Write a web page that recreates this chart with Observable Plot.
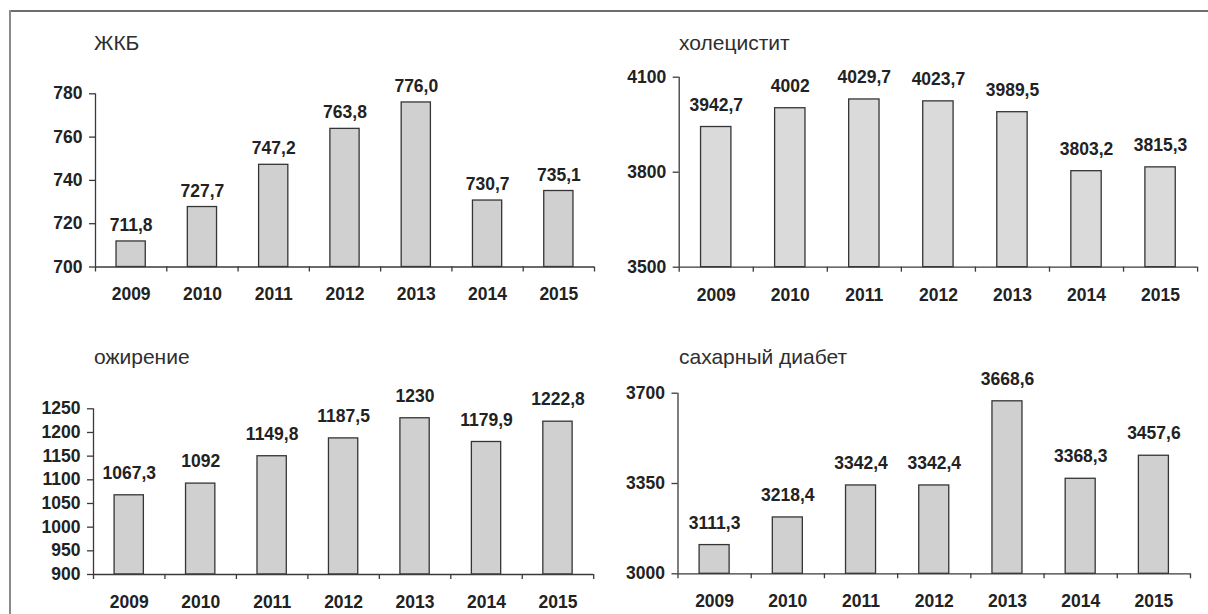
<!DOCTYPE html>
<html>
<head>
<meta charset="utf-8">
<script src="https://cdn.jsdelivr.net/npm/d3@7"></script>
<script src="https://cdn.jsdelivr.net/npm/@observablehq/plot@0.6"></script>
<style>
  html, body { margin: 0; padding: 0; background: #fff; }
  #root { position: relative; width: 1208px; height: 614px; overflow: hidden; background: #fff;
          font-family: "Liberation Sans", Arial, sans-serif; }
  .frame-top { position: absolute; left: 9px; top: 10px; width: 1199px; height: 2px; background: #6e6e6e; }
  .frame-left { position: absolute; left: 9px; top: 10px; width: 2px; height: 604px; background: #8a8a8a; }
  .title { position: absolute; font-size: 21px; line-height: 24px; color: #2e2e2e; white-space: nowrap; }
  .panel { position: absolute; }
  .panel svg { overflow: visible; }
</style>
</head>
<body>
<div id="root">
  <div class="frame-top"></div>
  <div class="frame-left"></div>
</div>
<script>
// ---- data ----
const years = ["2009", "2010", "2011", "2012", "2013", "2014", "2015"];

const titles = ["ЖКБ", "холецистит", "ожирение", "сахарный диабет"];

const gsdValues = [711.8, 727.7, 747.2, 763.8, 776.0, 730.7, 735.1];
const cholecystitisValues = [3942.7, 4002, 4029.7, 4023.7, 3989.5, 3803.2, 3815.3];
const obesityValues = [1067.3, 1092, 1149.8, 1187.5, 1230, 1179.9, 1222.8];
const diabetesValues = [3111.3, 3218.4, 3342.4, 3342.4, 3668.6, 3368.3, 3457.6];

const gsdTicks = [700, 720, 740, 760, 780];
const cholecystitisTicks = [3500, 3800, 4100];
const obesityTicks = [900, 950, 1000, 1050, 1100, 1150, 1200, 1250];
const diabetesTicks = [3000, 3350, 3700];

// ---- layout ----
const panels = [
  {title: titles[0], values: gsdValues, ticks: gsdTicks, fmt: v => v.toFixed(1).replace(".", ","),
   left: 0, top: 0, ml: 95, mr: 10, mt: 93.3, mb: 40.5, labelDy: 16, fill: "#d0d0d0",
   titleX: 94, titleY: 31},
  {title: titles[1], values: cholecystitisValues, ticks: cholecystitisTicks, fmt: v => String(v).replace(".", ","),
   left: 604, top: 0, ml: 74.7, mr: 10.9, mt: 76.7, mb: 40.3, labelDy: 22, fill: "#dadada",
   titleX: 679, titleY: 31},
  {title: titles[2], values: obesityValues, ticks: obesityTicks, fmt: v => String(v).replace(".", ","),
   left: 0, top: 307, ml: 93, mr: 10.8, mt: 101.3, mb: 40, labelDy: 22, fill: "#d0d0d0",
   titleX: 94, titleY: 345},
  {title: titles[3], values: diabetesValues, ticks: diabetesTicks, fmt: v => String(v).replace(".", ","),
   left: 604, top: 307, ml: 73.5, mr: 18, mt: 85.7, mb: 40.7, labelDy: 22, fill: "#d0d0d0",
   titleX: 679, titleY: 345}
];

const W = 604, H = 307;
const barFrac = 0.41;
const textColor = "#222";
const axisColor = "#3a3a3a";
const fs = 17.5;
const root = document.getElementById("root");

for (const p of panels) {
  const rows = years.map((y, i) => ({year: y, i, v: p.values[i]}));
  const yMin = p.ticks[0], yMax = p.ticks[p.ticks.length - 1];
  const half = barFrac / 2;

  const chart = Plot.plot({
    width: W,
    height: H,
    marginLeft: p.ml,
    marginRight: p.mr,
    marginTop: p.mt,
    marginBottom: p.mb,
    style: {fontFamily: "'Liberation Sans', Arial, sans-serif", fontSize: fs + "px", fontWeight: "bold", color: textColor, background: "transparent"},
    x: {domain: [0, years.length], axis: null},
    y: {domain: [yMin, yMax], axis: null},
    marks: [
      Plot.rectY(rows, {
        x1: d => d.i + 0.5 - half,
        x2: d => d.i + 0.5 + half,
        y1: () => yMin,
        y2: "v",
        fill: p.fill,
        stroke: "#353535",
        strokeWidth: 1.3
      }),
      Plot.ruleX([0], {y1: yMin, y2: yMax, stroke: axisColor, strokeWidth: 1.3}),
      Plot.ruleY([yMin], {x1: 0, x2: years.length, stroke: axisColor, strokeWidth: 1.3}),
      Plot.axisY({
        ticks: p.ticks,
        tickSize: 6,
        tickPadding: 7,
        tickFormat: d => String(d),
        stroke: axisColor,
        strokeWidth: 1.3,
        fill: textColor,
        fontSize: fs,
        fontWeight: "bold",
        label: null
      }),
      Plot.axisX({
        ticks: d3.range(years.length + 1),
        tickSize: 5,
        tickFormat: () => "",
        stroke: axisColor,
        strokeWidth: 1.3,
        label: null
      }),
      Plot.axisX({
        ticks: d3.range(years.length).map(i => i + 0.5),
        tickSize: 0,
        tickPadding: 21,
        tickFormat: t => years[Math.floor(t)],
        fill: textColor,
        fontSize: fs,
        fontWeight: "bold",
        label: null
      }),
      Plot.text(rows, {
        x: d => d.i + 0.5,
        y: "v",
        text: d => p.fmt(d.v),
        dy: -p.labelDy,
        lineAnchor: "middle",
        textAnchor: "middle",
        fill: textColor,
        fontSize: fs,
        fontWeight: "bold"
      })
    ]
  });

  const box = document.createElement("div");
  box.className = "panel";
  box.style.left = p.left + "px";
  box.style.top = p.top + "px";
  box.appendChild(chart);
  root.appendChild(box);

  const t = document.createElement("div");
  t.className = "title";
  t.style.left = p.titleX + "px";
  t.style.top = p.titleY + "px";
  t.textContent = p.title;
  root.appendChild(t);
}
</script>
</body>
</html>
